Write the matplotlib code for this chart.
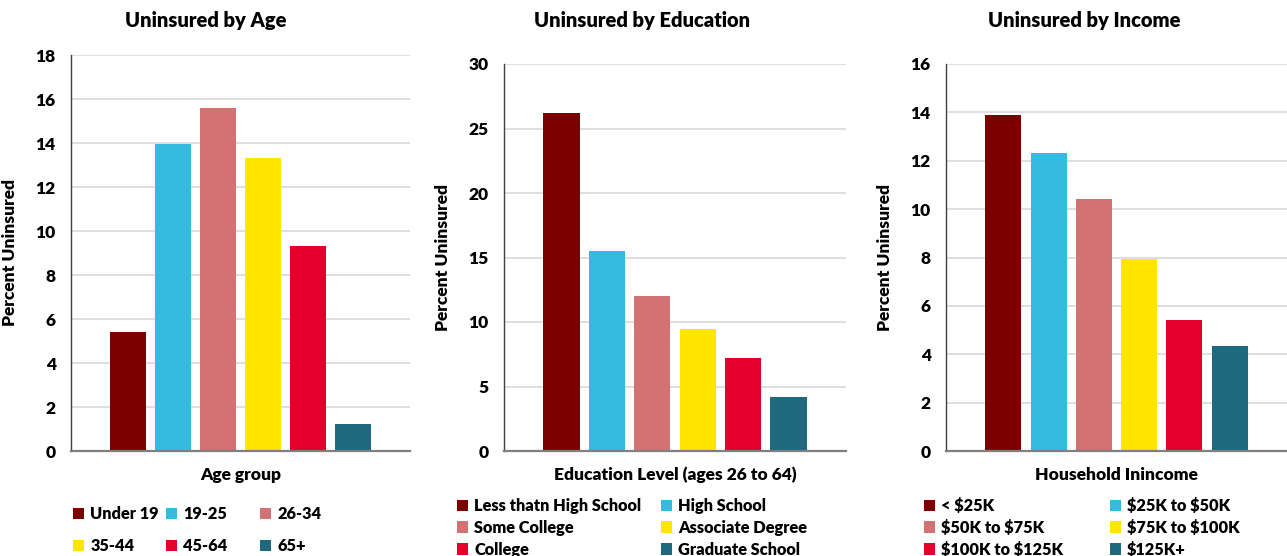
import matplotlib
matplotlib.use("Agg")
import matplotlib.pyplot as plt

plt.rcParams['font.family'] = ['Lato', 'DejaVu Sans']
plt.rcParams['font.weight'] = 'heavy'
plt.rcParams['axes.labelweight'] = 'heavy'
plt.rcParams['text.parse_math'] = False

colors = ['#7B0000', '#35BAE0', '#D27272', '#FFE500', '#E4002B', '#1F697F']

age_labels = ['Under 19', '19-25', '26-34', '35-44', '45-64', '65+']
age_vals = [5.4, 13.95, 15.6, 13.3, 9.3, 1.25]

edu_labels = ['Less thatn High School', 'High School', 'Some College',
              'Associate Degree', 'College', 'Graduate School']
edu_vals = [26.2, 15.5, 12.0, 9.45, 7.2, 4.15]

inc_labels = ['< $25K', '$25K to $50K', '$50K to $75K', '$75K to $100K',
              '$100K to $125K', '$125K+']
inc_vals = [13.9, 12.3, 10.4, 7.95, 5.4, 4.35]

W, H = 1287, 556
fig = plt.figure(figsize=(W / 100, H / 100), dpi=100)

def px(x, y):
    return x / W, 1 - y / H

charts = [
    # title, xlabel, labels, values, ymax, ystep, axes box (px), title x, legend cols x, legend top, rowspace
    ('Uninsured by Age', 'Age group', age_labels, age_vals, 18, 2,
     (71, 55, 410, 451), 206, [73, 166, 260], 506, 1.0),
    ('Uninsured by Education', 'Education Level (ages 26 to 64)', edu_labels, edu_vals, 30, 5,
     (504, 64, 846, 451), 642, [457, 661], 498, 0.36),
    ('Uninsured by Income', 'Household Inincome', inc_labels, inc_vals, 16, 2,
     (946, 64, 1287, 451), 1084, [924, 1110], 498, 0.36),
]

for title, xlab, labels, vals, ymax, ystep, box, tx, lx, ltop, lsp in charts:
    x0, y0, x1, y1 = box
    ax = fig.add_axes([x0 / W, 1 - y1 / H, (x1 - x0) / W, (y1 - y0) / H])
    bars = []
    for i, v in enumerate(vals):
        b = ax.bar(i, v, width=0.8, color=colors[i], zorder=3)
        bars.append(b)
    ax.set_xlim(-1.267, 6.267)
    ax.set_ylim(0, ymax)
    ax.set_yticks(range(0, ymax + 1, ystep))
    ax.set_xticks([])
    ax.yaxis.grid(True, color='#D9D9D9', lw=1.2, zorder=0)
    ax.tick_params(axis='y', length=0, pad=11, labelsize=12.5)
    for t in ax.get_yticklabels():
        t.set_fontweight('heavy')
    for s in ['top', 'right']:
        ax.spines[s].set_visible(False)
    ax.spines['left'].set_color('#404040')
    ax.spines['left'].set_linewidth(1.0)
    ax.spines['bottom'].set_color('#7F7F7F')
    ax.spines['bottom'].set_linewidth(1.6)
    ax.spines['bottom'].set_zorder(4)
    ax.set_ylabel('Percent Uninsured', fontsize=12.5)
    ax.yaxis.set_label_coords(-53 / (x1 - x0), 0.5)
    ax.text(0.5, -24 / (y1 - y0), xlab, transform=ax.transAxes,
            ha='center', va='center', fontsize=12.5)
    fx, fy = px(tx, 21)
    fig.text(fx, fy, title, ha='center', va='center', fontsize=14.5)

    ncol = len(lx)
    for c in range(ncol):
        hs = [bars[k] for k in range(c, len(bars), ncol)]
        ls = [labels[k] for k in range(c, len(labels), ncol)]
        fig.legend(hs, ls, loc='upper left', bbox_to_anchor=px(lx[c], ltop),
                   frameon=False, borderpad=0, borderaxespad=0,
                   handlelength=0.7, handleheight=0.7, handletextpad=0.35,
                   labelspacing=lsp, prop={'size': 11.8, 'weight': 'heavy'})

fig.savefig('out.png', dpi=100)
